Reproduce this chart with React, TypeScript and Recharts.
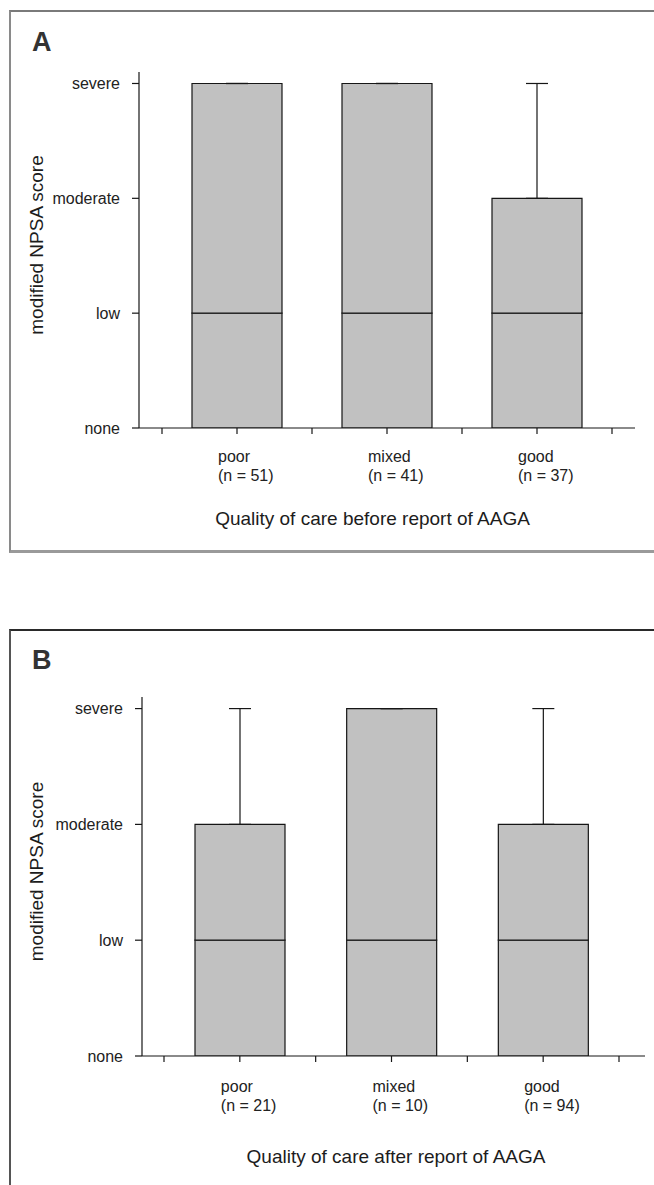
import { Bar, BarChart, ErrorBar, XAxis, YAxis } from "recharts";

// categories on the x axis, scores on the y axis (0 = none ... 3 = severe)
const CATEGORIES = ["poor", "mixed", "good"];
const SCORE_TICKS = [0, 1, 2, 3];
const SCORE_LABELS = ["none", "low", "moderate", "severe"];

// A: before report of AAGA
const N_BEFORE = [51, 41, 37];
const Q1_BEFORE = [0, 0, 0];
const MEDIAN_BEFORE = [1, 1, 1];
const Q3_BEFORE = [3, 3, 2];
const MAX_BEFORE = [3, 3, 3];

// B: after report of AAGA
const N_AFTER = [21, 10, 94];
const Q1_AFTER = [0, 0, 0];
const MEDIAN_AFTER = [1, 1, 1];
const Q3_AFTER = [2, 3, 2];
const MAX_AFTER = [3, 3, 3];

const FONT = "'Liberation Sans', Arial, Helvetica, sans-serif";
const INK = "#161616";
const BOX_FILL = "#c1c1c1";
const X_TICK = 6;

interface Row {
  name: string;
  n: number;
  base: number;
  lower: number;
  upper: number;
  whisker: number[];
}

function buildRows(n: number[], q1: number[], med: number[], q3: number[], max: number[]): Row[] {
  return CATEGORIES.map((name, i) => ({
    name,
    n: n[i],
    base: q1[i],
    lower: med[i] - q1[i],
    upper: q3[i] - med[i],
    whisker: [0, max[i] - q3[i]],
  }));
}

const rowsBefore = buildRows(N_BEFORE, Q1_BEFORE, MEDIAN_BEFORE, Q3_BEFORE, MAX_BEFORE);
const rowsAfter = buildRows(N_AFTER, Q1_AFTER, MEDIAN_AFTER, Q3_AFTER, MAX_AFTER);

function CareTick(props: any) {
  const { x, y, payload, index, visibleTicksCount, rows, labelDy } = props;
  const row = rows.find((r: Row) => r.name === payload.value);
  const half = payload.offset || 0;
  const axisY = y - X_TICK;
  return (
    <g>
      <line x1={x - half} x2={x - half} y1={axisY} y2={y} stroke={INK} strokeWidth={1.2} />
      {index === visibleTicksCount - 1 && (
        <line x1={x + half} x2={x + half} y1={axisY} y2={y} stroke={INK} strokeWidth={1.2} />
      )}
      <text x={x - 19} y={axisY + labelDy} textAnchor="start" fontSize={16} fill="#222" fontFamily={FONT}>
        <tspan x={x - 19}>{row ? row.name : payload.value}</tspan>
        <tspan x={x - 19} dy={19}>{`(n = ${row ? row.n : ""})`}</tspan>
      </text>
    </g>
  );
}

interface PanelProps {
  rows: Row[];
  title: string;
  width: number;
  height: number;
  margin: { top: number; right: number; bottom: number; left: number };
  yWidth: number;
  padding: { left: number; right: number };
  labelDy: number;
  titleDx: number;
  titleDy: number;
}

function Panel(p: PanelProps) {
  return (
    <BarChart width={p.width} height={p.height} data={p.rows} margin={p.margin} barSize={90}>
      <XAxis
        dataKey="name"
        height={102}
        padding={p.padding}
        axisLine={{ stroke: INK, strokeWidth: 1.2 }}
        tickLine={{ stroke: INK, strokeWidth: 1.2 }}
        tickSize={X_TICK}
        tickMargin={0}
        interval={0}
        tick={<CareTick rows={p.rows} labelDy={p.labelDy} />}
        label={{
          content: ({ viewBox }: any) => (
            <text
              x={viewBox.x + viewBox.width / 2 + p.titleDx}
              y={viewBox.y + p.titleDy}
              textAnchor="middle"
              fontSize={19}
              fill="#1c1c1c"
              fontFamily={FONT}
            >
              {p.title}
            </text>
          ),
        }}
      />
      <YAxis
        type="number"
        domain={[0, 3.1]}
        allowDataOverflow
        ticks={SCORE_TICKS}
        tickFormatter={(v: number) => SCORE_LABELS[v]}
        width={p.yWidth}
        axisLine={{ stroke: INK, strokeWidth: 1.2 }}
        tickLine={{ stroke: INK, strokeWidth: 1.2 }}
        tickSize={7}
        tickMargin={12}
        tick={{ fontSize: 16, fill: "#222", fontFamily: FONT }}
        label={{
          content: ({ viewBox }: any) => {
            const cy = viewBox.y + viewBox.height / 2 - 5;
            return (
              <text
                x={36}
                y={cy}
                transform={`rotate(-90, 36, ${cy})`}
                textAnchor="middle"
                dominantBaseline="central"
                fontSize={19}
                fill="#1c1c1c"
                fontFamily={FONT}
              >
                modified NPSA score
              </text>
            );
          },
        }}
      />
      <Bar dataKey="base" stackId="box" fill="none" stroke="none" isAnimationActive={false} />
      <Bar dataKey="lower" stackId="box" fill={BOX_FILL} stroke={INK} strokeWidth={1.2} isAnimationActive={false} />
      <Bar dataKey="upper" stackId="box" fill={BOX_FILL} stroke={INK} strokeWidth={1.2} isAnimationActive={false}>
        <ErrorBar dataKey="whisker" width={11} stroke={INK} strokeWidth={1.2} direction="y" isAnimationActive={false} />
      </Bar>
    </BarChart>
  );
}

const letterStyle = {
  position: "absolute" as const,
  left: 32,
  fontFamily: FONT,
  fontWeight: 700,
  fontSize: 27,
  lineHeight: "27px",
  color: "#333",
};

export default function App() {
  return (
    <div style={{ position: "absolute", left: 0, top: 0, width: 654, height: 1185, overflow: "hidden", background: "#fff" }}>
      <div
        style={{
          position: "absolute",
          left: 9,
          top: 10,
          width: 700,
          height: 543,
          boxSizing: "border-box",
          borderTop: "2px solid #7a7a7a",
          borderLeft: "2px solid #8a8a8a",
          borderBottom: "3px solid #9a9a9a",
        }}
      />
      <div style={{ ...letterStyle, top: 29 }}>A</div>
      <div style={{ position: "absolute", left: 0, top: 0 }}>
        <Panel
          rows={rowsBefore}
          title="Quality of care before report of AAGA"
          width={654}
          height={560}
          margin={{ top: 72, right: 19, bottom: 30, left: 0 }}
          yWidth={139}
          padding={{ left: 23, right: 23 }}
          labelDy={34}
          titleDx={-14.5}
          titleDy={97}
        />
      </div>

      <div
        style={{
          position: "absolute",
          left: 9,
          top: 629,
          width: 700,
          height: 700,
          boxSizing: "border-box",
          borderTop: "2px solid #2a2a2a",
          borderLeft: "2px solid #555",
        }}
      />
      <div style={{ ...letterStyle, top: 647 }}>B</div>
      <div style={{ position: "absolute", left: 0, top: 620 }}>
        <Panel
          rows={rowsAfter}
          title="Quality of care after report of AAGA"
          width={654}
          height={565}
          margin={{ top: 77, right: 9, bottom: 27, left: 0 }}
          yWidth={142}
          padding={{ left: 22, right: 26 }}
          labelDy={36}
          titleDx={2.5}
          titleDy={107}
        />
      </div>
    </div>
  );
}
